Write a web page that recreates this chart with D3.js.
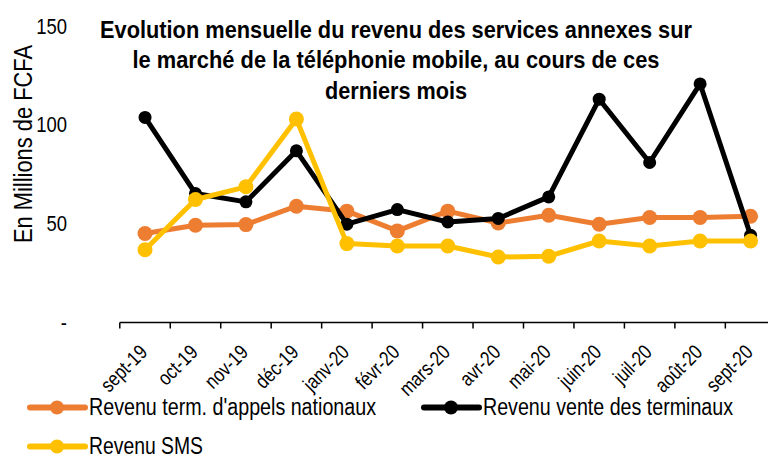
<!DOCTYPE html>
<html>
<head>
<meta charset="utf-8">
<script src="https://cdn.jsdelivr.net/npm/d3@7"></script>
<style>
  html, body { margin: 0; padding: 0; background: #fff; }
  svg { display: block; font-family: "Liberation Sans", Arial, sans-serif; }
</style>
</head>
<body>
<svg id="chart" width="768" height="457"></svg>
<script>
// ── Data ───────────────────────────────────────────────────
const months = ['sept-19', 'oct-19', 'nov-19', 'déc-19', 'janv-20', 'févr-20', 'mars-20',
  'avr-20', 'mai-20', 'juin-20', 'juil-20', 'août-20', 'sept-20'];

const appelsNationaux = [45.0, 49.2, 49.5, 58.8, 56.3, 46.3, 56.3, 50.3, 54.2, 49.7, 53.1, 53.1, 53.7];
const venteTerminaux = [103.7, 65.2, 61.0, 86.8, 49.7, 57.1, 50.8, 52.6, 63.5, 112.9, 80.9, 120.6, 44.1];
const revenuSMS = [36.8, 62.2, 68.6, 102.9, 39.9, 38.7, 38.7, 33.1, 33.5, 41.2, 38.7, 41.2, 41.2];

const yTicks = [0, 50, 100, 150];
const yTickLabels = ['-', '50', '100', '150'];

const titleLines = [
  'Evolution mensuelle du revenu des services annexes sur',
  'le marché de la téléphonie mobile, au cours de ces',
  'derniers mois'
];

// drawing order: orange under black under yellow
const series = [
  { name: "Revenu term. d'appels nationaux", values: appelsNationaux, color: '#ED7D31', r: 7.5 },
  { name: 'Revenu vente des terminaux', values: venteTerminaux, color: '#000000', r: 6.5 },
  { name: 'Revenu SMS', values: revenuSMS, color: '#FFC000', r: 7.5 }
];

// the original uses a narrow face; squeeze the regular one to match
const NARROW = 0.82;
function condense(sel) {
  sel.each(function () {
    const w = this.getComputedTextLength();
    d3.select(this)
      .attr('textLength', w * NARROW)
      .attr('lengthAdjust', 'spacingAndGlyphs');
  });
}

// ── Scales ─────────────────────────────────────────────────
const svg = d3.select('#chart');

const x = d3.scaleBand()
  .domain(months)
  .range([119.8, 775.8]);

const y = d3.scaleLinear()
  .domain([0, 150])
  .range([322.5, 25.8]);

const cx = d => x(d) + x.bandwidth() / 2;

// ── Title ──────────────────────────────────────────────────
const titleWidths = [592, 527, 142];
const titleBase = [37.5, 68, 98.5];
svg.append('g').selectAll('text')
  .data(titleLines)
  .enter().append('text')
  .attr('x', 396)
  .attr('y', (d, i) => titleBase[i])
  .attr('text-anchor', 'middle')
  .attr('font-size', 24.5)
  .attr('font-weight', 'bold')
  .attr('fill', '#000')
  .attr('textLength', (d, i) => titleWidths[i])
  .attr('lengthAdjust', 'spacingAndGlyphs')
  .text(d => d);

// ── Y axis (labels only) ───────────────────────────────────
const yAxis = svg.append('g')
  .attr('transform', 'translate(67,0)')
  .call(d3.axisLeft(y).tickValues(yTicks).tickSize(0).tickPadding(0)
    .tickFormat((d, i) => yTickLabels[i]));
yAxis.select('.domain').remove();
yAxis.selectAll('text')
  .attr('font-size', 22.5)
  .attr('font-family', '"Liberation Sans", Arial, sans-serif')
  .attr('fill', '#000')
  .call(condense);

svg.append('text')
  .attr('transform', 'translate(32,144) rotate(-90)')
  .attr('text-anchor', 'middle')
  .attr('font-size', 26)
  .attr('fill', '#000')
  .attr('textLength', 198)
  .attr('lengthAdjust', 'spacingAndGlyphs')
  .text('En Millions de FCFA');

// ── X axis ─────────────────────────────────────────────────
const xAxis = svg.append('g')
  .attr('transform', `translate(0,${y(0)})`);

xAxis.append('line')
  .attr('x1', x.range()[0]).attr('x2', x.range()[1])
  .attr('y1', 0).attr('y2', 0)
  .attr('stroke', '#000').attr('stroke-width', 1.5);

xAxis.selectAll('.tick-mark')
  .data(months)
  .enter().append('line')
  .attr('x1', d => x(d)).attr('x2', d => x(d))
  .attr('y1', 0).attr('y2', 6)
  .attr('stroke', '#000').attr('stroke-width', 1.5);

xAxis.selectAll('.tick-label')
  .data(months)
  .enter().append('text')
  .attr('transform', d => `translate(${cx(d) + 3.5},31) rotate(-45)`)
  .attr('text-anchor', 'end')
  .attr('font-size', 20.5)
  .attr('fill', '#000')
  .text(d => d)
  .call(condense);

// ── Lines & markers ────────────────────────────────────────
const line = d3.line()
  .x((d, i) => cx(months[i]))
  .y(d => y(d));

series.forEach(s => {
  const g = svg.append('g');
  g.append('path')
    .datum(s.values)
    .attr('d', line)
    .attr('fill', 'none')
    .attr('stroke', s.color)
    .attr('stroke-width', 5)
    .attr('stroke-linejoin', 'round');
  g.selectAll('circle')
    .data(s.values)
    .enter().append('circle')
    .attr('cx', (d, i) => cx(months[i]))
    .attr('cy', d => y(d))
    .attr('r', s.r)
    .attr('fill', s.color);
});

// ── Legend ─────────────────────────────────────────────────
const legendItems = [
  { s: series[0], x: 30, y: 407.5, w: 287 },
  { s: series[1], x: 424, y: 407.5, w: 250 },
  { s: series[2], x: 30, y: 446.5, w: 114 }
];

const legend = svg.append('g');
legendItems.forEach(item => {
  const g = legend.append('g').attr('transform', `translate(${item.x},${item.y})`);
  g.append('line')
    .attr('x1', 0).attr('x2', 55)
    .attr('y1', 0).attr('y2', 0)
    .attr('stroke', item.s.color)
    .attr('stroke-width', 6)
    .attr('stroke-linecap', 'round');
  g.append('circle')
    .attr('cx', 27).attr('cy', 0)
    .attr('r', 7)
    .attr('fill', item.s.color);
  g.append('text')
    .attr('x', 59)
    .attr('y', 7)
    .attr('font-size', 23.5)
    .attr('fill', '#000')
    .attr('textLength', item.w)
    .attr('lengthAdjust', 'spacingAndGlyphs')
    .text(item.s.name);
});
</script>
</body>
</html>
